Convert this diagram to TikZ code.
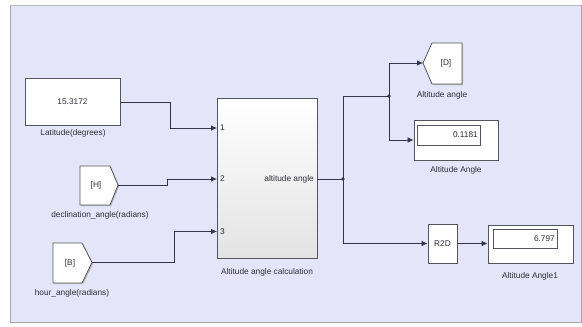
\documentclass[tikz,border=0pt]{standalone}
\usepackage{fontspec}
\setmainfont{Liberation Sans}
\usetikzlibrary{arrows.meta,shadows}
\definecolor{panel}{HTML}{E5E5FA}
\definecolor{wire}{HTML}{34344A}
\definecolor{edge}{HTML}{555560}
\definecolor{txt}{HTML}{2E2E38}
\tikzset{
  blk/.style={draw=edge,line width=0.8pt,fill=white,general shadow={shadow xshift=1.2pt,shadow yshift=-1.2pt,fill=gray!55}},
  lbl/.style={font=\fontsize{8.3}{9}\selectfont,text=txt,inner sep=0pt},
  wireln/.style={draw=wire,line width=0.75pt},
  arr/.style={wireln,-{Latex[length=6pt,width=5.5pt]}},
  jdot/.style={circle,fill=wire,inner sep=0pt,minimum size=3.8pt},
}
\begin{document}
\begin{tikzpicture}[x=1pt,y=-1pt]
\useasboundingbox (0,0) rectangle (582,327);
\fill[white] (0,0) rectangle (582,327);
% panel
\draw[fill=panel,draw=gray!70,line width=0.8pt] (10,5) rectangle (581,322);
\draw[gray!55,line width=1.2pt] (10,5.5) -- (581,5.5);

% Latitude constant
\node[blk,minimum width=95pt,minimum height=47pt,inner sep=0pt] (lat) at (72.5,101.5) {};
\node[lbl] (latv) at (lat.center) {15.3172};
\node[lbl] (latl) at (73,133) {Latitude(degrees)};

% From [H]
\path[blk] (80,166) -- (110,166) -- (118,185) -- (110,205) -- (80,205) -- cycle;
\coordinate (fromH) at (118,185);
\node[lbl] (hv) at (96,185) {[H]};
\node[lbl] (hl) at (100,215) {declination\_angle(radians)};

% From [B]
\path[blk] (53,243) -- (82,243) -- (92,262.5) -- (82,283) -- (53,283) -- cycle;
\coordinate (fromB) at (92,262.5);
\node[lbl] (bv) at (70,263) {[B]};
\node[lbl] (bl) at (72,293) {hour\_angle(radians)};

% Subsystem block
\shade[top color=white,bottom color=gray!22,general shadow={shadow xshift=1.2pt,shadow yshift=-1.2pt,fill=gray!55}] (217,98) rectangle (317,258);
\draw[edge,line width=0.8pt] (217,98) rectangle (317,258);
\coordinate (p1) at (217,128);
\coordinate (p2) at (217,179);
\coordinate (p3) at (217,231.5);
\coordinate (out) at (317,179);
\node[lbl,anchor=west] (n1) at (220,128) {1};
\node[lbl,anchor=west] (n2) at (220,179) {2};
\node[lbl,anchor=west] (n3) at (220,231.5) {3};
\node[lbl,anchor=east] (on) at (314,179) {altitude angle};
\node[lbl] (sl) at (267,272) {Altitude angle calculation};

% Goto [D]
\path[blk] (423,63) -- (432,43) -- (462,43) -- (462,84) -- (432,84) -- cycle;
\coordinate (gotoD) at (423,63);
\node[lbl] (dv) at (446,63) {[D]};
\node[lbl] (dl) at (442,95) {Altitude angle};

% Display 1
\node[blk,minimum width=84pt,minimum height=40pt,inner sep=0pt] (d1) at (456,140) {};
\draw[edge,line width=0.7pt,fill=white] (417,125) rectangle (480,145);
\node[lbl,anchor=east] (d1v) at (478,135) {0.1181};
\node[lbl] (d1l) at (456,170) {Altitude Angle};

% R2D
\node[blk,minimum width=29pt,minimum height=39pt,inner sep=0pt] (r2d) at (442.5,243.5) {};
\node[lbl] (r2dt) at (r2d.center) {R2D};

% Display 2
\node[blk,minimum width=85pt,minimum height=38pt,inner sep=0pt] (d2) at (530.5,244) {};
\draw[edge,line width=0.7pt,fill=white] (493,229) rectangle (557,248);
\node[lbl,anchor=east] (d2v) at (555,238.5) {6.797};
\node[lbl] (d2l) at (530,276) {Altitude Angle1};

% junctions
\node[jdot] (j1) at (343,179) {};
\node[jdot] (j2) at (389,96) {};

% wires
\draw[arr] (lat.east |- 0,102) -- (170,102) -- (170,128) -- (p1);
\draw[arr] (fromH) -- (167,185) -- (167,179) -- (p2);
\draw[arr] (fromB) -- (174,262.5) -- (174,231.5) -- (p3);
\draw[wireln] (out) -- (j1.center);
\draw[wireln] (j1.center) -- (343,96) -- (j2.center);
\draw[arr] (j2.center) -- (389,63) -- (gotoD);
\draw[arr] (j2.center) -- (389,140) -- (d1.west);
\draw[arr] (j1.center) -- (343,243.5) -- (r2d.west);
\draw[arr] (r2d.east) -- (d2.west |- r2d.east);
\end{tikzpicture}
\end{document}
